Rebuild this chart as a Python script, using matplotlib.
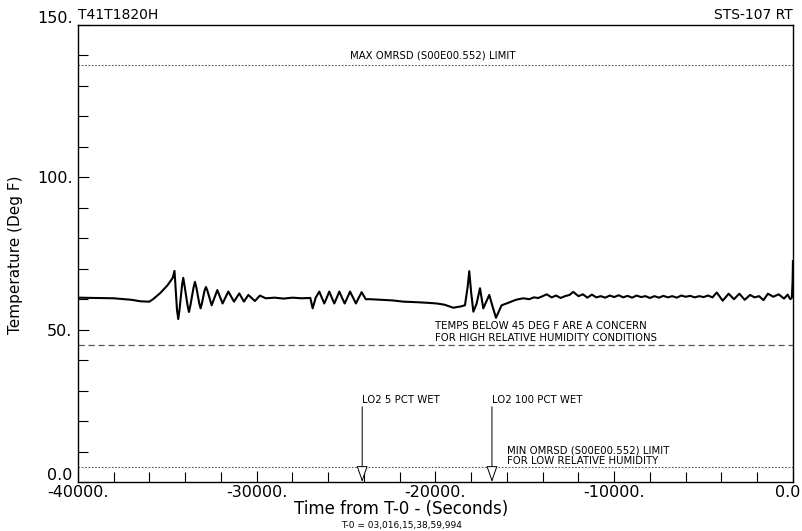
import matplotlib
matplotlib.use("Agg")
import matplotlib.pyplot as plt
from matplotlib.ticker import MultipleLocator, FixedFormatter, FixedLocator
from matplotlib.transforms import ScaledTranslation

# time from T-0 (s) and temperature (deg F)
time_s = [
    -40000, -39000, -38000, -37000, -36500, -36000, -35800, -35400, -35000, -34700, -34600,
    -34460, -34390, -34320, -34180, -34110, -34040, -33870, -33790, -33710, -33535,
    -33455, -33375, -33220, -33140, -33060, -32920, -32840, -32760, -32520, -32205,
    -31910, -31590, -31270, -30975, -30715, -30470, -30100, -29820, -29500, -29000,
    -28500, -28000, -27500, -27000, -26870, -26700, -26500, -26360, -26220, -26080,
    -25940, -25800, -25660, -25520, -25380, -25230, -25080, -24930, -24780, -24610,
    -24450, -24290, -24130, -23900, -23665, -23000, -22400, -21800, -21000, -20400,
    -19930, -19500, -19000, -18600, -18350, -18200, -18110, -18000, -17880, -17700,
    -17510, -17325, -16990, -16800, -16615, -16300, -16020, -15500, -15090,
    -14750, -14500, -14250, -14000, -13780, -13500, -13250, -13000, -12750, -12500,
    -12290, -12000, -11750, -11500, -11250, -11000, -10750, -10500, -10250, -10000,
    -9750, -9500, -9250, -9000, -8750, -8500, -8250, -8000, -7750, -7500,
    -7250, -7000, -6750, -6500, -6250, -6000, -5750, -5500, -5250, -5000,
    -4750, -4500, -4265, -3930, -3600, -3300, -3000, -2700, -2400, -2150,
    -1900, -1650, -1400, -1100, -800, -500, -300, -150, -60, -20, 0,
]
temp_f = [
    60.5, 60.4, 60.3, 59.8, 59.3, 59.2, 60.0, 62.0, 64.5, 67.0, 69.3,
    56.5, 53.5, 56.5, 64.5, 67.0, 64.5, 58.0, 55.8, 58.0, 63.8,
    65.7, 63.8, 58.8, 57.0, 58.8, 62.8, 64.0, 62.8, 58.0, 63.0,
    58.6, 62.5, 59.2, 61.9, 59.2, 61.4, 59.4, 61.2, 60.3, 60.5,
    60.2, 60.5, 60.3, 60.4, 57.0, 60.5, 62.5, 60.5, 58.6, 60.5,
    62.5, 60.5, 58.6, 60.5, 62.5, 60.5, 58.6, 60.5, 62.5, 60.5,
    58.6, 60.5, 62.3, 60.0, 60.0, 59.8, 59.6, 59.2, 59.0, 58.8,
    58.6, 58.2, 57.2, 57.6, 58.0, 64.0, 69.2, 62.0, 55.9, 58.5,
    63.6, 57.0, 61.4, 57.5, 53.9, 58.0, 58.6, 59.8, 60.3,
    60.0, 60.6, 60.4, 61.0, 61.6, 60.6, 61.2, 60.4, 61.0, 61.4,
    62.4, 61.0, 61.6, 60.5, 61.5, 60.6, 61.0, 60.5, 61.2, 60.7,
    61.3, 60.6, 61.1, 60.5, 61.2, 60.7, 61.0, 60.4, 61.0, 60.5,
    61.1, 60.6, 61.0, 60.5, 61.2, 60.8, 61.1, 60.6, 61.0, 60.7,
    61.2, 60.6, 62.2, 59.5, 61.8, 60.0, 61.8, 59.8, 61.4, 60.6,
    61.0, 59.7, 61.8, 60.8, 61.6, 60.2, 61.5, 60.0, 60.5, 66.0, 72.5,
]

max_limit = 137.0
min_limit = 5.0
concern_temp = 45.0

event_times = [-24100, -16840]
event_labels = ["LO2 5 PCT WET", "LO2 100 PCT WET"]

xtick_vals = [-40000, -30000, -20000, -10000, 0]
xtick_text = ["-40000.", "-30000.", "-20000.", "-10000.", "0.0"]
ytick_vals = [0, 50, 100, 150]
ytick_text = ["0.0", "50.", "100.", "150."]

fig = plt.figure(figsize=(8.03, 5.31), dpi=100)
ax = fig.add_axes([0.0971, 0.0923, 0.8904, 0.8606])

ax.plot(time_s, temp_f, color="black", lw=1.5)

ax.axhline(max_limit, color="#555555", lw=0.8, ls=(0, (1.5, 1.5)))
ax.axhline(min_limit, color="#555555", lw=0.8, ls=(0, (1.5, 1.5)))
ax.axhline(concern_temp, color="#555555", lw=0.9, ls=(0, (5, 3)))

small = dict(fontsize=7.3, color="black")
ax.text(-20140, max_limit + 1.3, "MAX OMRSD (S00E00.552) LIMIT", ha="center", va="bottom", **small)
ax.text(-20030, 51.2, "TEMPS BELOW 45 DEG F ARE A CONCERN", ha="left", va="center", **small)
ax.text(-20030, 47.3, "FOR HIGH RELATIVE HUMIDITY CONDITIONS", ha="left", va="center", **small)
ax.text(-16020, 10.5, "MIN OMRSD (S00E00.552) LIMIT", ha="left", va="center", **small)
ax.text(-16020, 7.0, "FOR LOW RELATIVE HUMIDITY", ha="left", va="center", **small)

for t, lab in zip(event_times, event_labels):
    ax.text(t, 26.9, lab, ha="left", va="center", **small)
    ax.annotate("", xy=(t, 0), xytext=(t, 24.7),
                arrowprops=dict(arrowstyle="-|>,head_length=1.0,head_width=0.35",
                                mutation_scale=10, fc="white", ec="black",
                                lw=0.7, shrinkA=0, shrinkB=0))

ax.set_xlim(-40000, 0)
ax.set_ylim(0, 150)

ax.xaxis.set_major_locator(FixedLocator(xtick_vals))
ax.xaxis.set_major_formatter(FixedFormatter(xtick_text))
ax.xaxis.set_minor_locator(MultipleLocator(2000))
ax.yaxis.set_major_locator(FixedLocator(ytick_vals))
ax.yaxis.set_major_formatter(FixedFormatter(ytick_text))
ax.yaxis.set_minor_locator(MultipleLocator(10))

ax.tick_params(which="both", direction="in", top=False, right=False,
               width=0.8, labelsize=11.5)
ax.tick_params(which="major", length=8)
ax.tick_params(axis="x", which="major", pad=2)
ax.tick_params(axis="y", which="major", pad=4)
ax.tick_params(which="minor", length=7)
for s in ax.spines.values():
    s.set_linewidth(1.0)

# nudge end labels like the original: 0.0 and 150. sit a bit high, last x label left
ylabs = ax.get_yticklabels()
for lab in (ylabs[0], ylabs[3]):
    lab.set_transform(lab.get_transform() + ScaledTranslation(0, 6 / 72, fig.dpi_scale_trans))
xlabs = ax.get_xticklabels()
xlabs[-1].set_transform(xlabs[-1].get_transform() + ScaledTranslation(-4 / 72, 0, fig.dpi_scale_trans))

fig.text(16 / 803, 0.52, "Temperature (Deg F)", rotation=90, ha="center", va="center", fontsize=11)
fig.text(0.5, 0.025, "Time from T-0 - (Seconds)", ha="center", va="bottom", fontsize=12)
fig.text(0.5, 0.002, "T-0 = 03,016,15,38,59,994", ha="center", va="bottom", fontsize=6.5)

fig.text(0.0971, 0.958, "T41T1820H", ha="left", va="bottom", fontsize=10)
fig.text(0.9875, 0.958, "STS-107 RT", ha="right", va="bottom", fontsize=10)

fig.savefig("out.png", dpi=100)
